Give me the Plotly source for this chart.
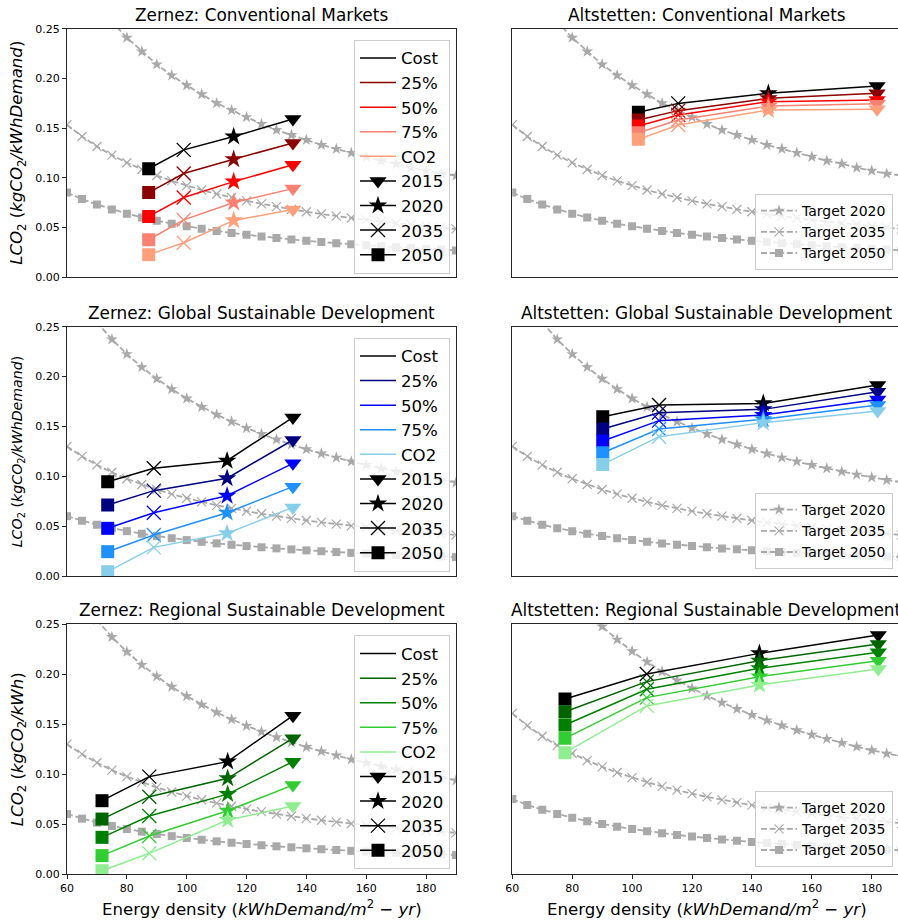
import plotly.graph_objects as go

FONT = "DejaVu Sans"
W, H = 898, 921

# ---------------- data ----------------
TARGET_X = [60, 65, 70, 75, 80, 85, 90, 95, 100, 105, 110, 115, 120, 125, 130,
            135, 140, 145, 150, 155, 160, 165, 170, 175, 180, 185, 190, 195]

# Conventional Markets targets (both sites)
CONV_T2020 = [0.322, 0.297, 0.276, 0.257, 0.241, 0.227, 0.214, 0.203, 0.193, 0.184,
              0.175, 0.168, 0.161, 0.154, 0.148, 0.143, 0.138, 0.133, 0.129, 0.125,
              0.121, 0.117, 0.114, 0.110, 0.107, 0.104, 0.102, 0.099]
CONV_T2035 = [0.1533, 0.1415, 0.1314, 0.1227, 0.1150, 0.1082, 0.1022, 0.0968, 0.0920, 0.0876,
              0.0836, 0.0800, 0.0767, 0.0736, 0.0708, 0.0681, 0.0657, 0.0634, 0.0613, 0.0594,
              0.0575, 0.0558, 0.0541, 0.0526, 0.0511, 0.0497, 0.0484, 0.0472]
CONV_T2050 = [0.0850, 0.0785, 0.0729, 0.0680, 0.0638, 0.0600, 0.0567, 0.0537, 0.0510, 0.0486,
              0.0464, 0.0443, 0.0425, 0.0408, 0.0392, 0.0378, 0.0364, 0.0352, 0.0340, 0.0329,
              0.0319, 0.0309, 0.0300, 0.0291, 0.0283, 0.0276, 0.0268, 0.0262]

# Global Sustainable Development targets (both sites) / Zernez regional
GSD_T2020 = [0.2967, 0.2738, 0.2543, 0.2373, 0.2225, 0.2094, 0.1978, 0.1874, 0.1780, 0.1695,
             0.1618, 0.1548, 0.1483, 0.1424, 0.1369, 0.1319, 0.1271, 0.1228, 0.1187, 0.1148,
             0.1113, 0.1079, 0.1047, 0.1017, 0.0989, 0.0962, 0.0937, 0.0913]
GSD_T2035 = [0.1300, 0.1200, 0.1114, 0.1040, 0.0975, 0.0918, 0.0867, 0.0821, 0.0780, 0.0743,
             0.0709, 0.0678, 0.0650, 0.0624, 0.0600, 0.0578, 0.0557, 0.0538, 0.0520, 0.0503,
             0.0488, 0.0473, 0.0459, 0.0446, 0.0433, 0.0422, 0.0411, 0.0400]
GSD_T2050 = [0.0600, 0.0554, 0.0514, 0.0480, 0.0450, 0.0424, 0.0400, 0.0379, 0.0360, 0.0343,
             0.0327, 0.0313, 0.0300, 0.0288, 0.0277, 0.0267, 0.0257, 0.0248, 0.0240, 0.0232,
             0.0225, 0.0218, 0.0212, 0.0206, 0.0200, 0.0195, 0.0189, 0.0185]

# Altstetten Regional Sustainable Development targets
ART_T2020 = [0.3717, 0.3431, 0.3186, 0.2973, 0.2788, 0.2624, 0.2478, 0.2347, 0.2230, 0.2124,
             0.2027, 0.1939, 0.1858, 0.1784, 0.1715, 0.1652, 0.1593, 0.1538, 0.1487, 0.1439,
             0.1394, 0.1352, 0.1312, 0.1274, 0.1239, 0.1205, 0.1174, 0.1144]
ART_T2035 = [0.1608, 0.1485, 0.1379, 0.1287, 0.1206, 0.1135, 0.1072, 0.1016, 0.0965, 0.0919,
             0.0877, 0.0839, 0.0804, 0.0772, 0.0742, 0.0715, 0.0689, 0.0666, 0.0643, 0.0623,
             0.0603, 0.0585, 0.0568, 0.0551, 0.0536, 0.0522, 0.0508, 0.0495]
ART_T2050 = [0.0750, 0.0692, 0.0643, 0.0600, 0.0563, 0.0529, 0.0500, 0.0474, 0.0450, 0.0429,
             0.0409, 0.0391, 0.0375, 0.0360, 0.0346, 0.0333, 0.0321, 0.0310, 0.0300, 0.0290,
             0.0281, 0.0273, 0.0265, 0.0257, 0.0250, 0.0243, 0.0237, 0.0231]

SERIES_NAMES = ["Cost", "25%", "50%", "75%", "CO2"]
YEAR_NAMES = ["2015", "2020", "2035", "2050"]
TARGET_NAMES = ["Target 2020", "Target 2035", "Target 2050"]

# point order: 2050 (square), 2035 (x), 2020 (star), 2015 (triangle)
ZER_CONV_X = [87.3, 99.0, 115.7, 135.5]
ZER_CONV_Y = [[0.109, 0.128, 0.1414, 0.159],
              [0.085, 0.1042, 0.1186, 0.135],
              [0.061, 0.080, 0.096, 0.113],
              [0.0375, 0.0575, 0.075, 0.089],
              [0.0225, 0.0345, 0.057, 0.068]]

ALT_CONV_X = [102.1, 115.4, 145.5, 181.8]
ALT_CONV_Y = [[0.1658, 0.1748, 0.1849, 0.1923],
              [0.1580, 0.1675, 0.1799, 0.1849],
              [0.1520, 0.1631, 0.1765, 0.1782],
              [0.1453, 0.1580, 0.1721, 0.1745],
              [0.1386, 0.1530, 0.1681, 0.1690]]

ZER_GSD_X = [73.6, 89.0, 113.5, 135.5]
ZER_GSD_Y = [[0.0946, 0.108, 0.1156, 0.159],
             [0.0712, 0.0856, 0.098, 0.1364],
             [0.0478, 0.0635, 0.0805, 0.113],
             [0.0244, 0.0411, 0.0635, 0.0896],
             [0.0043, 0.0287, 0.0428, 0.0688]]

ALT_GSD_X = [90.2, 109.0, 143.8, 182.0]
ALT_GSD_Y = [[0.1598, 0.1715, 0.1731, 0.1915],
             [0.1474, 0.1638, 0.1671, 0.1848],
             [0.1354, 0.1558, 0.1614, 0.1771],
             [0.1236, 0.1474, 0.1571, 0.1715],
             [0.1119, 0.1397, 0.1538, 0.1654]]

ZER_RSD_X = [71.7, 87.5, 113.7, 135.5]
ZER_RSD_Y = [[0.0734, 0.0975, 0.1125, 0.1585],
             [0.055, 0.0774, 0.0958, 0.1358],
             [0.0367, 0.058, 0.080, 0.1125],
             [0.0184, 0.038, 0.0634, 0.089],
             [0.0033, 0.0207, 0.054, 0.068]]

ALT_RSD_X = [77.6, 104.9, 142.5, 182.2]
ALT_RSD_Y = [[0.1752, 0.2002, 0.2209, 0.2393],
             [0.1625, 0.1926, 0.2136, 0.2303],
             [0.1492, 0.1849, 0.2059, 0.2220],
             [0.1358, 0.1766, 0.1976, 0.2136],
             [0.1215, 0.1683, 0.1893, 0.2053]]

X_TICKS = [60, 80, 100, 120, 140, 160, 180]
Y_TICKS = [0.0, 0.05, 0.10, 0.15, 0.20, 0.25]

# ---------------- styles ----------------
REDS = ["#000000", "#8B0000", "#FF0000", "#FA8072", "#FFA07A"]
BLUES = ["#000000", "#000080", "#0000FF", "#1E90FF", "#87CEEB"]
GREENS = ["#000000", "#006400", "#008000", "#32CD32", "#90EE90"]
GRAY = "#A9A9A9"
SPINE = "#262626"

PT_SYMBOLS = ["square", "x-thin", "star", "triangle-down"]
PT_SIZES = [13, 14, 14, 15]
PT_LW = [0, 1.3, 0, 0]
YEAR_SYMBOLS = ["triangle-down", "star", "x-thin", "square"]
YEAR_SIZES = [15, 14, 14, 13]
YEAR_LW = [0, 0, 1.3, 0]
TARGET_SYMBOLS = ["star", "x-thin", "square"]
TARGET_SIZES = [9, 9, 8]
TARGET_LW = [0, 1.2, 0]


def fy(px):
    return 1 - px / H


def fx(px):
    return px / W


COL_DOM = [[fx(67), fx(456)], [fx(512.3), 1.0]]
COL_RNG = [[60, 190], [60, 60 + (898 - 512.3) / 2.995]]
ROW_PX = [(28.7, 277.0), (326.7, 576.0), (624.3, 874.0)]

panels = [
    dict(row=0, col=0, title="Zernez: Conventional Markets", xs=ZER_CONV_X, ys=ZER_CONV_Y,
         colors=REDS, targets=[CONV_T2020, CONV_T2035, CONV_T2050]),
    dict(row=0, col=1, title="Altstetten: Conventional Markets", xs=ALT_CONV_X, ys=ALT_CONV_Y,
         colors=REDS, targets=[CONV_T2020, CONV_T2035, CONV_T2050]),
    dict(row=1, col=0, title="Zernez: Global Sustainable Development", xs=ZER_GSD_X, ys=ZER_GSD_Y,
         colors=BLUES, targets=[GSD_T2020, GSD_T2035, GSD_T2050]),
    dict(row=1, col=1, title="Altstetten: Global Sustainable Development", xs=ALT_GSD_X, ys=ALT_GSD_Y,
         colors=BLUES, targets=[GSD_T2020, GSD_T2035, GSD_T2050]),
    dict(row=2, col=0, title="Zernez: Regional Sustainable Development", xs=ZER_RSD_X, ys=ZER_RSD_Y,
         colors=GREENS, targets=[GSD_T2020, GSD_T2035, GSD_T2050]),
    dict(row=2, col=1, title="Altstetten: Regional Sustainable Development", xs=ALT_RSD_X, ys=ALT_RSD_Y,
         colors=GREENS, targets=[ART_T2020, ART_T2035, ART_T2050]),
]

YLABELS = [
    ("<i>LCO</i><sub>2</sub> (<i>kgCO</i><sub>2</sub><i>/kWhDemand</i>)", 16.6),
    ("<i>LCO</i><sub>2</sub> (<i>kgCO</i><sub>2</sub><i>/kWhDemand</i>)", 14.2),
    ("<i>LCO</i><sub>2</sub> (<i>kgCO</i><sub>2</sub><i>/kWh</i>)", 16.6),
]
XLABEL = "Energy density (<i>kWhDemand/m</i><sup>2</sup> − <i>yr</i>)"

fig = go.Figure()
layout = dict(width=W, height=H, margin=dict(l=0, r=0, t=0, b=0, pad=0),
              paper_bgcolor="white", plot_bgcolor="white",
              font=dict(family=FONT, color="black"), annotations=[])

for k, p in enumerate(panels, start=1):
    sfx = "" if k == 1 else str(k)
    xa, ya = "x" + sfx, "y" + sfx
    leg = "legend" + sfx
    r, c = p["row"], p["col"]
    top, bot = ROW_PX[r]
    bottom_row = r == 2
    left_col = c == 0

    layout["xaxis" + sfx] = dict(
        domain=COL_DOM[c], range=COL_RNG[c], anchor=ya, showgrid=False, zeroline=False,
        showline=True, linecolor=SPINE, linewidth=1, mirror=True,
        tickvals=X_TICKS, ticks="outside" if bottom_row else "", ticklen=4, tickcolor=SPINE,
        showticklabels=bottom_row, tickfont=dict(size=11, family=FONT, color="black"),
        automargin=False)
    layout["yaxis" + sfx] = dict(
        domain=[fy(bot), fy(top)], range=[0, 0.25], anchor=xa, showgrid=False, zeroline=False,
        showline=True, linecolor=SPINE, linewidth=1, mirror=left_col,
        tickvals=Y_TICKS, tickformat=".2f", ticks="outside" if left_col else "", ticklen=4,
        tickcolor=SPINE, showticklabels=left_col,
        tickfont=dict(size=11, family=FONT, color="black"), automargin=False)

    # targets
    for t, vals in enumerate(p["targets"]):
        fig.add_trace(go.Scatter(
            x=TARGET_X, y=vals, mode="lines+markers", name=TARGET_NAMES[t],
            line=dict(color=GRAY, width=1.8, dash="6px,2.6px"),
            marker=dict(symbol=TARGET_SYMBOLS[t], size=TARGET_SIZES[t], color=GRAY,
                        opacity=1, line=dict(color=GRAY, width=TARGET_LW[t])),
            showlegend=not left_col, legend=leg, xaxis=xa, yaxis=ya))

    # scenario series
    for i, ys in enumerate(p["ys"]):
        col = p["colors"][i]
        fig.add_trace(go.Scatter(
            x=p["xs"], y=ys, mode="lines", name=SERIES_NAMES[i],
            line=dict(color=col, width=1.5), showlegend=left_col, legend=leg,
            xaxis=xa, yaxis=ya))
        fig.add_trace(go.Scatter(
            x=p["xs"], y=ys, mode="markers", name=SERIES_NAMES[i],
            marker=dict(symbol=PT_SYMBOLS, size=PT_SIZES, color=col, opacity=1,
                        line=dict(color=col, width=PT_LW)),
            showlegend=False, xaxis=xa, yaxis=ya))

    if left_col:
        for j, yn in enumerate(YEAR_NAMES):
            fig.add_trace(go.Scatter(
                x=[None], y=[None], mode="lines+markers", name=yn,
                line=dict(color="black", width=1.5),
                marker=dict(symbol=YEAR_SYMBOLS[j], size=YEAR_SIZES[j], color="black",
                            opacity=1, line=dict(color="black", width=YEAR_LW[j])),
                showlegend=True, legend=leg, xaxis=xa, yaxis=ya))

    # legend box
    if left_col:
        layout[leg] = dict(x=fx(450), xanchor="right", y=fy(top + 11), yanchor="top",
                           xref="paper", yref="paper",
                           bgcolor="rgba(255,255,255,0.8)", bordercolor="#CCCCCC", borderwidth=1,
                           font=dict(size=16.6, family=FONT, color="black"),
                           itemwidth=36, tracegroupgap=0, traceorder="normal")
    else:
        layout[leg] = dict(x=fx(893), xanchor="right", y=fy(bot - 83), yanchor="top",
                           xref="paper", yref="paper",
                           bgcolor="rgba(255,255,255,0.8)", bordercolor="#CCCCCC", borderwidth=1,
                           font=dict(size=14, family=FONT, color="black"),
                           itemwidth=36, tracegroupgap=0, traceorder="normal")

    # title
    cx = (COL_DOM[c][0] + (fx(456) if left_col else fx(901))) / 2
    layout["annotations"].append(dict(
        text=p["title"], x=cx, y=fy(top - 2), xref="paper", yref="paper",
        xanchor="center", yanchor="bottom", showarrow=False,
        font=dict(size=16.9, family=FONT, color="black")))

    if left_col:
        txt, fs = YLABELS[r]
        layout["annotations"].append(dict(
            text=txt, x=fx(18), y=fy((top + bot) / 2), xref="paper", yref="paper",
            xanchor="center", yanchor="middle", textangle=-90, showarrow=False,
            font=dict(size=fs, family=FONT, color="black")))
    if bottom_row:
        layout["annotations"].append(dict(
            text=XLABEL, x=cx, y=fy(908), xref="paper", yref="paper",
            xanchor="center", yanchor="middle", showarrow=False,
            font=dict(size=16.6, family=FONT, color="black")))

fig.update_layout(**layout)
fig.write_html("out.html")
